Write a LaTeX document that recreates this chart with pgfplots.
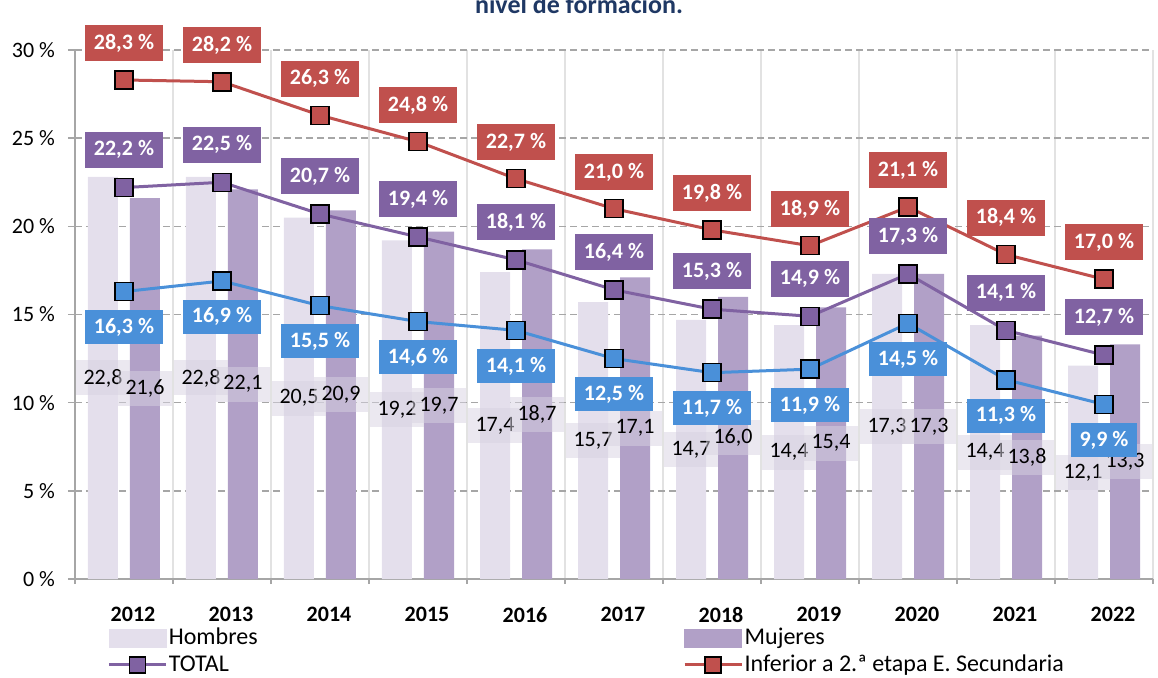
\documentclass[border=0pt]{standalone}
\usepackage{pgfplots}
\pgfplotsset{compat=1.18}
\usepackage{pgfplotstable}
\usepackage{fontspec}
\setmainfont{Carlito}
\definecolor{cRed}{RGB}{192,80,77}
\definecolor{cPur}{RGB}{128,98,162}
\definecolor{cBlue}{RGB}{74,144,217}
\definecolor{cHom}{RGB}{228,223,236}
\definecolor{cMuj}{RGB}{177,160,199}
\definecolor{cGrid}{RGB}{166,166,166}
\definecolor{cVgrid}{RGB}{226,226,226}
\definecolor{cLbl}{RGB}{215,210,225}
\definecolor{cTitle}{RGB}{31,56,100}

\pgfplotsset{
  lineleg/.style={legend image code/.code={\draw[mark repeat=2, mark phase=2, ##1] plot coordinates {(0pt,0pt) (14.25pt,0pt) (28.5pt,0pt)};}},
  homleg/.style={legend image code/.code={\fill[cHom] (0pt,-4.5pt) rectangle (28.5pt,4.5pt);}},
  mujleg/.style={legend image code/.code={\fill[cMuj] (0pt,-4.5pt) rectangle (28.5pt,4.5pt);}},
}

\pgfplotstableread{
x H M T R B
0 22.8 21.6 22.2 28.3 16.3
1 22.8 22.1 22.5 28.2 16.9
2 20.5 20.9 20.7 26.3 15.5
3 19.2 19.7 19.4 24.8 14.6
4 17.4 18.7 18.1 22.7 14.1
5 15.7 17.1 16.4 21.0 12.5
6 14.7 16.0 15.3 19.8 11.7
7 14.4 15.4 14.9 18.9 11.9
8 17.3 17.3 17.3 21.1 14.5
9 14.4 13.8 14.1 18.4 11.3
10 12.1 13.3 12.7 17.0 9.9
}\data

\begin{document}
\begin{tikzpicture}
\useasboundingbox (-37.5pt,-49pt) rectangle (541.5pt,289.5pt);
\begin{axis}[
  at={(0pt,0pt)}, anchor=south west,
  scale only axis, width=539pt, height=264.5pt,
  xmin=-0.5, xmax=10.5, ymin=0, ymax=30,
  axis lines=left, axis line style={-, draw=cGrid, line width=1pt},
  /pgf/number format/assume math mode=true,
  xtick={0,1,2,3,4,5,6,7,8,9,10},
  xticklabels={2012,2013,2014,2015,2016,2017,2018,2019,2020,2021,2022},
  minor xtick={-0.5,0.5,...,10.5},
  xminorgrids, minor grid style={cVgrid, line width=0.75pt},
  major x tick style={draw=none},
  minor x tick style={draw=cGrid, line width=0.75pt},
  minor tick length=2.5pt,
  ytick={0,5,10,15,20,25,30},
  yticklabel={\pgfmathprintnumber{\tick}~\%},
  ymajorgrids, major grid style={cGrid, dash pattern=on 3.5pt off 2pt, line width=0.75pt},
  major y tick style={draw=cGrid, line width=0.75pt},
  major tick length=3.5pt,
  tick align=outside,
  yticklabel style={font=\fontsize{11}{13}\selectfont, xshift=-3pt},
  xticklabel style={font=\bfseries\fontsize{11}{13}\selectfont, xshift=4.5pt, yshift=-7pt},
  legend columns=2,
  legend cell align=left,
  legend style={at={(0,0)}, anchor=north west, xshift=16pt, yshift=-22.5pt,
    draw=none, fill=none, font=\fontsize{12}{14}\selectfont, inner sep=0pt,
    row sep=0pt, nodes={inner xsep=0.75pt, inner ysep=0pt, minimum height=13.5pt},
    /tikz/column 2/.style={column sep=212pt}},
  clip=false,
]
% bars
\addplot[ybar, bar width=15pt, bar shift=-10.5pt, fill=cHom, draw=none, forget plot] table[x=x,y=H]{\data};
\addplot[ybar, bar width=15pt, bar shift=10.5pt, fill=cMuj, draw=none, forget plot] table[x=x,y=M]{\data};
% bar labels (centred in bars)
\addplot[forget plot, draw=none, mark=none, point meta=explicit,
  nodes near coords={\pgfmathprintnumber[fixed,fixed zerofill,precision=1,use comma]{\pgfplotspointmeta}},
  nodes near coords align={anchor=center},
  every node near coord/.append style={fill=cLbl, fill opacity=0.5, text opacity=1, text=black,
    font=\fontsize{11}{13}\selectfont, inner xsep=3.75pt, inner ysep=0pt, minimum height=17.5pt}]
  table[x expr=\thisrow{x}-0.214, y expr=\thisrow{H}/2, meta=H]{\data};
\addplot[forget plot, draw=none, mark=none, point meta=explicit,
  nodes near coords={\pgfmathprintnumber[fixed,fixed zerofill,precision=1,use comma]{\pgfplotspointmeta}},
  nodes near coords align={anchor=center},
  every node near coord/.append style={fill=cLbl, fill opacity=0.5, text opacity=1, text=black,
    font=\fontsize{11}{13}\selectfont, inner xsep=3.75pt, inner ysep=0pt, minimum height=17.5pt}]
  table[x expr=\thisrow{x}+0.214, y expr=\thisrow{M}/2, meta=M]{\data};
% lines
\addplot[forget plot, cRed, line width=1.5pt, mark=square*, mark size=4.5pt,
  mark options={fill=cRed, draw=black, line width=0.75pt, solid}, point meta=y,
  nodes near coords={\pgfmathprintnumber[fixed,fixed zerofill,precision=1,use comma]{\pgfplotspointmeta}~\%},
  nodes near coords align={anchor=south},
  every node near coord/.append style={fill=cRed, text=white, font=\bfseries\fontsize{11}{13}\selectfont,
    inner xsep=4.5pt, inner ysep=0pt, minimum height=18pt, yshift=9pt}]
  table[x=x,y=R]{\data};
\addplot[forget plot, cPur, line width=1.5pt, mark=square*, mark size=4.5pt,
  mark options={fill=cPur, draw=black, line width=0.75pt, solid}, point meta=y,
  nodes near coords={\pgfmathprintnumber[fixed,fixed zerofill,precision=1,use comma]{\pgfplotspointmeta}~\%},
  nodes near coords align={anchor=south},
  every node near coord/.append style={fill=cPur, text=white, font=\bfseries\fontsize{11}{13}\selectfont,
    inner xsep=4.5pt, inner ysep=0pt, minimum height=18pt, yshift=9.5pt}]
  table[x=x,y=T]{\data};
\addplot[forget plot, cBlue, line width=1.5pt, mark=square*, mark size=4.5pt,
  mark options={fill=cBlue, draw=black, line width=0.75pt, solid}, point meta=y,
  nodes near coords={\pgfmathprintnumber[fixed,fixed zerofill,precision=1,use comma]{\pgfplotspointmeta}~\%},
  nodes near coords align={anchor=north},
  every node near coord/.append style={fill=cBlue, text=white, font=\bfseries\fontsize{11}{13}\selectfont,
    inner xsep=4.5pt, inner ysep=0pt, minimum height=17pt, yshift=-9pt}]
  table[x=x,y=B]{\data};
% legend
\addlegendimage{homleg}
\addlegendentry{Hombres}
\addlegendimage{mujleg}
\addlegendentry{Mujeres}
\addlegendimage{cPur, line width=1.5pt, mark=square*, mark size=4pt,
  mark options={fill=cPur, draw=black, line width=0.75pt, solid}, lineleg}
\addlegendentry{TOTAL}
\addlegendimage{cRed, line width=1.5pt, mark=square*, mark size=4pt,
  mark options={fill=cRed, draw=black, line width=0.75pt, solid}, lineleg}
\addlegendentry{Inferior a 2.ª etapa E. Secundaria}
\end{axis}
\node[anchor=base, font=\bfseries\fontsize{13}{15}\selectfont, text=cTitle] at (252pt,283pt) {nivel de formación.};
\end{tikzpicture}
\end{document}
